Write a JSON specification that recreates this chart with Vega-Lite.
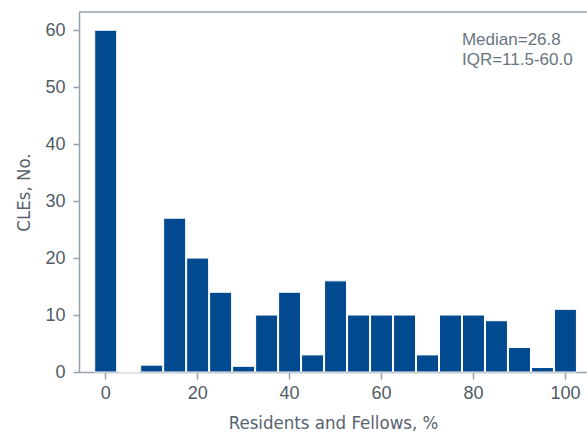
{
  "$schema": "https://vega.github.io/schema/vega-lite/v6.json",
  "autosize": {"type": "none"},
  "width": 508,
  "height": 360,
  "padding": {"left": 79, "top": 12, "right": 0, "bottom": 63},
  "background": "white",
  "config": {
    "view": {"stroke": null},
    "axis": {
      "domainColor": "#93a2ad",
      "tickColor": "#93a2ad",
      "domainWidth": 1.5,
      "tickWidth": 1.5,
      "labelColor": "#4f5b66",
      "labelFont": "Liberation Sans",
      "labelFontSize": 18,
      "titleColor": "#56636e",
      "titleFont": "DejaVu Sans Condensed, Liberation Sans",
      "titleFontSize": 18.5,
      "titleFontWeight": "normal",
      "grid": false,
      "zindex": 1
    }
  },
  "layer": [
    {
      "data": {
        "values": [
          {"bin_start": -2.5, "bin_end": 2.5, "count": 60},
          {"bin_start": 2.5, "bin_end": 7.5, "count": 0},
          {"bin_start": 7.5, "bin_end": 12.5, "count": 1.2},
          {"bin_start": 12.5, "bin_end": 17.5, "count": 27},
          {"bin_start": 17.5, "bin_end": 22.5, "count": 20},
          {"bin_start": 22.5, "bin_end": 27.5, "count": 14},
          {"bin_start": 27.5, "bin_end": 32.5, "count": 1},
          {"bin_start": 32.5, "bin_end": 37.5, "count": 10},
          {"bin_start": 37.5, "bin_end": 42.5, "count": 14},
          {"bin_start": 42.5, "bin_end": 47.5, "count": 3},
          {"bin_start": 47.5, "bin_end": 52.5, "count": 16},
          {"bin_start": 52.5, "bin_end": 57.5, "count": 10},
          {"bin_start": 57.5, "bin_end": 62.5, "count": 10},
          {"bin_start": 62.5, "bin_end": 67.5, "count": 10},
          {"bin_start": 67.5, "bin_end": 72.5, "count": 3},
          {"bin_start": 72.5, "bin_end": 77.5, "count": 10},
          {"bin_start": 77.5, "bin_end": 82.5, "count": 10},
          {"bin_start": 82.5, "bin_end": 87.5, "count": 9},
          {"bin_start": 87.5, "bin_end": 92.5, "count": 4.3},
          {"bin_start": 92.5, "bin_end": 97.5, "count": 0.8},
          {"bin_start": 97.5, "bin_end": 102.5, "count": 11}
        ]
      },
      "mark": {"type": "bar", "color": "#024a8f", "stroke": "white", "strokeWidth": 1},
      "encoding": {
        "x": {
          "field": "bin_start",
          "type": "quantitative",
          "bin": {"binned": true},
          "scale": {"domain": [-5.7, 104.8], "nice": false, "zero": false},
          "axis": {
            "values": [0, 20, 40, 60, 80, 100],
            "format": "d",
            "tickSize": 7,
            "labelPadding": 5,
            "title": "Residents and Fellows, %",
            "titlePadding": 11
          }
        },
        "x2": {"field": "bin_end"},
        "y": {
          "field": "count",
          "type": "quantitative",
          "scale": {"domain": [0, 63.2], "nice": false},
          "axis": {
            "values": [0, 10, 20, 30, 40, 50, 60],
            "tickSize": 6,
            "labelPadding": 8,
            "title": "CLEs, No.",
            "titlePadding": 11
          }
        }
      }
    },
    {
      "data": {"values": [{}]},
      "mark": {"type": "rule", "color": "#93a2ad", "strokeWidth": 1.5},
      "encoding": {
        "y": {"datum": 63.2, "type": "quantitative"}
      }
    },
    {
      "data": {"values": [{}]},
      "mark": {
        "type": "text",
        "text": ["Median=26.8", "IQR=11.5-60.0"],
        "align": "left",
        "baseline": "alphabetic",
        "font": "Liberation Sans",
        "fontSize": 17,
        "lineHeight": 20,
        "color": "#687681"
      },
      "encoding": {
        "x": {"datum": 77.6, "type": "quantitative"},
        "y": {"datum": 57.4, "type": "quantitative"}
      }
    }
  ]
}
